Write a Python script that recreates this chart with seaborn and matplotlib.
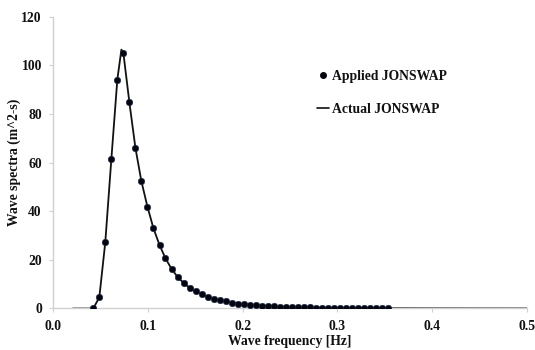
import matplotlib
matplotlib.use("Agg")
import matplotlib.pyplot as plt
import seaborn as sns
import pandas as pd
from matplotlib.lines import Line2D

# Applied JONSWAP (points)
applied_freq = [0.0425, 0.0489, 0.0552, 0.0616, 0.0679, 0.0743, 0.0806, 0.0870, 0.0933, 0.0997,
                0.1060, 0.1124, 0.1187, 0.1251, 0.1314, 0.1378, 0.1441, 0.1505, 0.1568, 0.1632,
                0.1695, 0.1759, 0.1822, 0.1886, 0.1949, 0.2013, 0.2076, 0.2140, 0.2203, 0.2267,
                0.2330, 0.2394, 0.2457, 0.2521, 0.2584, 0.2648, 0.2711, 0.2775, 0.2838, 0.2902,
                0.2965, 0.3029, 0.3092, 0.3156, 0.3219, 0.3283, 0.3346, 0.3410, 0.3473, 0.3537]
applied_vals = [0.0, 4.6, 27.3, 61.5, 94.2, 105.0, 84.8, 66.0, 52.3, 41.8,
                33.0, 26.1, 20.6, 16.3, 13.0, 10.5, 8.5, 7.1, 5.8, 4.8,
                4.0, 3.4, 2.9, 2.4, 2.05, 1.75, 1.5, 1.3, 1.12, 0.98,
                0.85, 0.75, 0.66, 0.58, 0.52, 0.46, 0.41, 0.37, 0.33, 0.30,
                0.27, 0.24, 0.22, 0.20, 0.18, 0.165, 0.15, 0.14, 0.125, 0.115]

# Actual JONSWAP (line)
actual_freq = [0.021, 0.0425, 0.0489, 0.0552, 0.0616, 0.0679, 0.0722, 0.0743, 0.0806, 0.0870,
               0.0933, 0.0997, 0.1060, 0.1124, 0.1187, 0.1251, 0.1314, 0.1378, 0.1441, 0.1505,
               0.1568, 0.1632, 0.1695, 0.1822, 0.1949, 0.2076, 0.2203, 0.2330, 0.2457, 0.2584,
               0.2711, 0.2838, 0.2965, 0.3092, 0.3219, 0.3346, 0.3537, 0.40, 0.45, 0.50]
actual_vals = [0.0, 0.0, 4.6, 27.3, 61.5, 94.2, 106.5, 105.0, 84.8, 66.0,
               52.3, 41.8, 33.0, 26.1, 20.6, 16.3, 13.0, 10.5, 8.5, 7.1,
               5.8, 4.8, 4.0, 2.9, 2.05, 1.5, 1.12, 0.85, 0.66, 0.52,
               0.41, 0.33, 0.27, 0.22, 0.18, 0.15, 0.115, 0.07, 0.045, 0.03]

x_ticks = [0.0, 0.1, 0.2, 0.3, 0.4, 0.5]
y_ticks = [0, 20, 40, 60, 80, 100, 120]

sns.set_theme(style="white")
plt.rcParams['font.family'] = ['Liberation Serif', 'DejaVu Serif']
plt.rcParams['font.weight'] = 'bold'

FS = 9.8

fig = plt.figure(figsize=(5.35, 3.5), dpi=100)
ax = fig.add_axes([0.099, 0.1186, 0.886, 0.8334])

df_line = pd.DataFrame({"f": actual_freq, "S": actual_vals})
df_pts = pd.DataFrame({"f": applied_freq, "S": applied_vals})

sns.lineplot(data=df_line, x="f", y="S", ax=ax, color="#111111", linewidth=1.3, zorder=2)
sns.scatterplot(data=df_pts, x="f", y="S", ax=ax, color="#050510", s=22,
                edgecolor="#1a2a4a", linewidth=0.4, zorder=3)

ax.set_xlim(0, 0.5)
ax.set_ylim(0, 120)
ax.set_xticks(x_ticks)
ax.set_xticklabels([f"{t:.1f}" for t in x_ticks])
ax.set_yticks(y_ticks)
ax.set_yticklabels([str(t) for t in y_ticks])

for side in ["top", "right"]:
    ax.spines[side].set_visible(False)
for side in ["left", "bottom"]:
    ax.spines[side].set_color("#d0d0d0")
    ax.spines[side].set_linewidth(1.0)

ax.tick_params(axis="both", which="major", length=3, width=0.8, color="#d0d0d0",
               labelsize=FS, labelcolor="#111111", pad=5, direction="out",
               left=True, bottom=True)
for lbl in ax.get_xticklabels() + ax.get_yticklabels():
    lbl.set_fontweight("bold")

ax.set_xlabel("Wave frequency [Hz]", fontsize=FS, fontweight="bold", color="#111111", labelpad=2)
ax.set_ylabel("Wave spectra (m^2-s)", fontsize=FS, fontweight="bold", color="#111111", labelpad=0.5)

handles = [
    Line2D([], [], marker="o", linestyle="none", color="#050510", markersize=4.0),
    Line2D([], [], color="#111111", linewidth=1.2),
]
leg = ax.legend(handles, ["Applied JONSWAP", "Actual JONSWAP"], loc="upper left",
                bbox_to_anchor=(0.57, 0.835), bbox_transform=fig.transFigure,
                frameon=False, handlelength=0.9, handletextpad=0.2, labelspacing=1.45,
                prop={"family": "Liberation Serif", "weight": "bold", "size": FS})
for t in leg.get_texts():
    t.set_color("#111111")

fig.savefig("out.png", dpi=100)
